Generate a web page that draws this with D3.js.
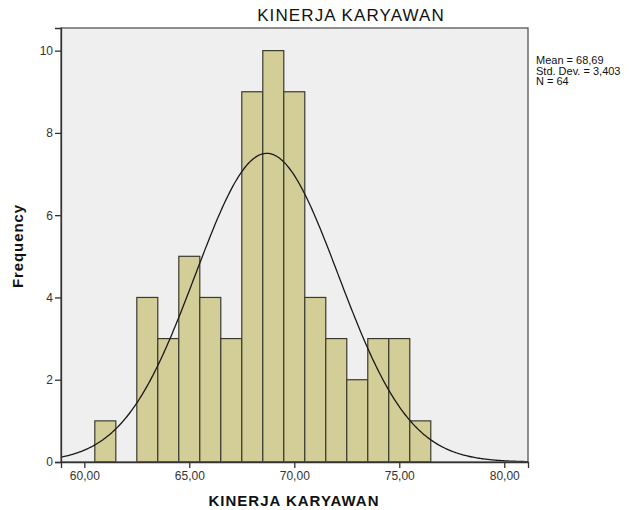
<!DOCTYPE html>
<html><head><meta charset="utf-8">
<script src="https://cdn.jsdelivr.net/npm/d3@7"></script>
<style>body{margin:0;background:#fff}svg{display:block;font-family:"Liberation Sans",Arial,sans-serif}</style>
</head><body>
<svg id="c" width="630" height="510"></svg>
<script>
const binCenters = [61,62,63,64,65,66,67,68,69,70,71,72,73,74,75,76];
const frequencies = [1,0,4,3,5,4,3,9,10,9,4,3,2,3,3,1];
const xTicks = [60,65,70,75,80];
const yTicks = [0,2,4,6,8,10];
const stats = {mean:68.69, sd:3.403, n:64};
const statLabels = ["Mean = 68,69","Std. Dev. = 3,403","N = 64"];
const title = "KINERJA KARYAWAN";

const svg = d3.select("#c");
const L=61,R=528,T=28,B=462;
const x = d3.scaleLinear().domain([58.89,81.13]).range([L,R]);
const y = d3.scaleLinear().domain([0,10.55]).range([B,T]);

svg.append("rect").attr("x",L).attr("y",T).attr("width",R-L).attr("height",B-T)
  .attr("fill","#efefef");

svg.selectAll("rect.bar").data(binCenters.map((c,i)=>({c,f:frequencies[i]})).filter(d=>d.f>0))
  .enter().append("rect").attr("class","bar")
  .attr("x",d=>x(d.c-0.5)).attr("width",d=>x(d.c+0.5)-x(d.c-0.5))
  .attr("y",d=>y(d.f)).attr("height",d=>y(0)-y(d.f))
  .attr("fill","#d3ce97").attr("stroke","#3a3a30").attr("stroke-width",1.2);

const pdf = v => stats.n*1/(stats.sd*Math.sqrt(2*Math.PI))*Math.exp(-0.5*((v-stats.mean)/stats.sd)**2);
const pts = d3.range(0,401).map(i=>{const v=58.89+(81.13-58.89)*i/400;return [v,pdf(v)];});
svg.append("path").attr("d",d3.line().x(d=>x(d[0])).y(d=>y(d[1]))(pts))
  .attr("fill","none").attr("stroke","#1a1a1a").attr("stroke-width",1.3);

svg.append("rect").attr("x",L).attr("y",T).attr("width",R-L).attr("height",B-T)
  .attr("fill","none").attr("stroke","#555").attr("stroke-width",1.3);

const xa = svg.append("g").attr("transform",`translate(0,${B})`)
  .call(d3.axisBottom(x).tickValues(xTicks).tickSize(6).tickPadding(3).tickFormat(d=>d3.format(".2f")(d).replace(".",",")));
const ya = svg.append("g").attr("transform",`translate(${L},0)`)
  .call(d3.axisLeft(y).tickValues(yTicks).tickSize(6).tickPadding(2));
[xa,ya].forEach(g=>{
  g.select(".domain").attr("stroke","#333").attr("stroke-width",1.3);
  g.selectAll(".tick line").attr("stroke","#333").attr("stroke-width",1.3);
  g.selectAll("text").attr("font-size",12).attr("fill","#333").attr("font-family","Liberation Sans, Arial, sans-serif");
});

svg.append("text").attr("x",351).attr("y",21).attr("text-anchor","middle")
  .attr("font-size",17).attr("letter-spacing",1.1).attr("fill","#111").text(title);
svg.append("text").attr("x",294).attr("y",506).attr("text-anchor","middle")
  .attr("font-size",15).attr("letter-spacing",1).attr("font-weight","bold").attr("fill","#111").text(title);
svg.append("text").attr("transform","translate(23,246) rotate(-90)").attr("text-anchor","middle")
  .attr("font-size",15).attr("letter-spacing",0.9).attr("font-weight","bold").attr("fill","#111").text("Frequency");
svg.selectAll("text.stat").data(statLabels).enter().append("text").attr("class","stat")
  .attr("x",536).attr("y",(d,i)=>64+i*10.5).attr("font-size",11).attr("fill","#111").text(d=>d);
</script>
</body></html>
